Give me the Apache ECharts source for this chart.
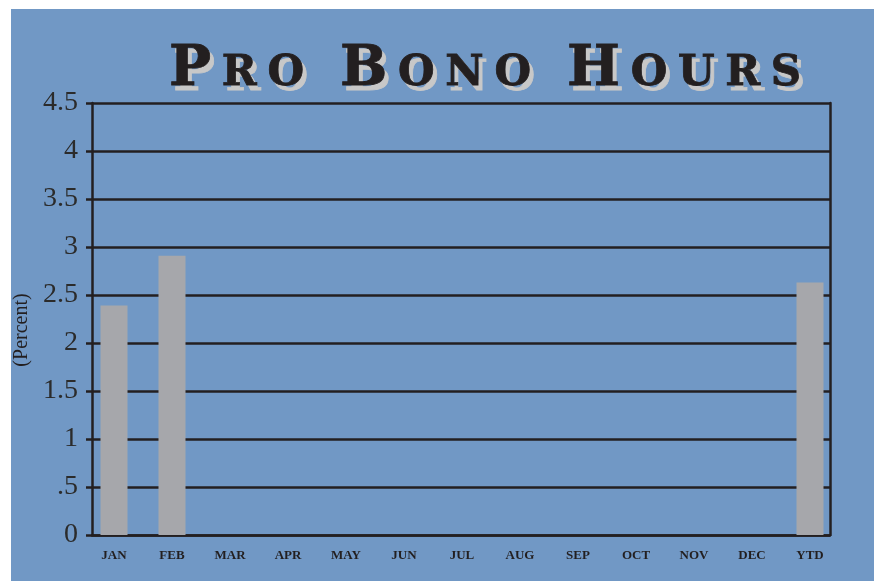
<!DOCTYPE html>
<html>
<head>
<meta charset="utf-8">
<title>Pro Bono Hours</title>
<script src="https://cdn.jsdelivr.net/npm/echarts@6/dist/echarts.min.js"></script>
<style>
  html, body { margin: 0; padding: 0; background: #fff; }
  #main { width: 874px; height: 581px; }
</style>
</head>
<body>
<div id="main"></div>
<script>
  // data
  var months = ['JAN', 'FEB', 'MAR', 'APR', 'MAY', 'JUN', 'JUL', 'AUG', 'SEP', 'OCT', 'NOV', 'DEC', 'YTD'];
  var hours = [2.39, 2.91, null, null, null, null, null, null, null, null, null, null, 2.63];
  var yTickLabels = ['0', '.5', '1', '1.5', '2', '2.5', '3', '3.5', '4', '4.5'];
  var titleText = 'Pro Bono Hours';

  var ink = '#231f20';
  var shadow = '#c8c8c8';

  // small caps title: one rich token per letter so the tracking can be widened
  function titleRich(color) {
    var base = { fontFamily: 'DejaVu Serif', fontWeight: 'bold', lineHeight: 80, verticalAlign: 'bottom',
      color: color, textBorderColor: color, textBorderWidth: 0.8 };
    return {
      cap: Object.assign({}, base, { fontSize: 56, padding: [0, 10.7, 0, 0] }),
      sc: Object.assign({}, base, { fontSize: 42, padding: [0, 10.7, 3, 0] }),
      sp: Object.assign({}, base, { fontSize: 42, padding: [0, 10.7, 0, 0] })
    };
  }
  var titleStr = '';
  for (var i = 0; i < titleText.length; i++) {
    var c = titleText[i];
    if (c === ' ') titleStr += '{sp| }';
    else if (c === c.toUpperCase()) titleStr += '{cap|' + c + '}';
    else titleStr += '{sc|' + c.toUpperCase() + '}';
  }

  var chart = echarts.init(document.getElementById('main'));
  var option = {
    backgroundColor: '#fff',
    animation: false,
    graphic: [{
      type: 'rect',
      z: -10,
      shape: { x: 11, y: 9, width: 863, height: 572 },
      style: { fill: '#7198c5' }
    }],
    title: [
      // drop shadow copy first, then the dark text on top
      { text: titleStr, left: 173, top: 23, padding: 0, z: 1, textStyle: { rich: titleRich(shadow) } },
      { text: titleStr, left: 169, top: 18, padding: 0, z: 2, textStyle: { rich: titleRich(ink) } }
    ],
    grid: [
      { left: 92, right: 44, top: 103, bottom: 46, outerBoundsMode: 'none' },   // frame and gridlines
      { left: 85, right: 35, top: 103, bottom: 46, outerBoundsMode: 'none' }    // bars and month labels
    ],
    xAxis: [
      {
        gridIndex: 0,
        type: 'category',
        data: months,
        axisLine: { show: true, lineStyle: { color: ink, width: 2.5 } },
        axisTick: { show: false },
        axisLabel: { show: false },
        splitLine: { show: false }
      },
      {
        gridIndex: 1,
        type: 'category',
        data: months,
        axisLine: { show: false },
        axisTick: { show: false },
        axisLabel: {
          margin: 14,
          color: ink,
          fontFamily: 'Liberation Serif',
          fontWeight: 'bold',
          fontSize: 13
        }
      }
    ],
    yAxis: [
      {
        gridIndex: 0,
        type: 'value',
        min: 0,
        max: 4.5,
        interval: 0.5,
        name: '(Percent)',
        nameLocation: 'middle',
        nameRotate: 90,
        nameGap: 56,
        nameTextStyle: { color: ink, fontFamily: 'Liberation Serif', fontSize: 20, padding: [0, 22, 0, 0] },
        axisLine: { show: true, lineStyle: { color: ink, width: 2.5 } },
        axisTick: { show: true, inside: false, length: 6, lineStyle: { color: ink, width: 2.5 } },
        axisLabel: {
          margin: 14,
          color: '#2b2b2b',
          fontFamily: 'Liberation Serif',
          fontSize: 28,
          formatter: function (v) { return yTickLabels[Math.round(v / 0.5)]; }
        },
        splitLine: { show: true, lineStyle: { color: ink, width: 2.5 } }
      },
      {
        gridIndex: 0,
        type: 'value',
        position: 'right',
        min: 0,
        max: 4.5,
        axisLine: { show: true, lineStyle: { color: ink, width: 2.5 } },
        axisTick: { show: false },
        axisLabel: { show: false },
        splitLine: { show: false }
      },
      {
        gridIndex: 1,
        type: 'value',
        min: 0,
        max: 4.5,
        show: false
      }
    ],
    series: [{
      type: 'bar',
      xAxisIndex: 1,
      yAxisIndex: 2,
      barWidth: 27,
      z: 1,
      itemStyle: { color: '#a6a7ab' },
      data: hours
    }]
  };
  chart.setOption(option);
</script>
</body>
</html>
